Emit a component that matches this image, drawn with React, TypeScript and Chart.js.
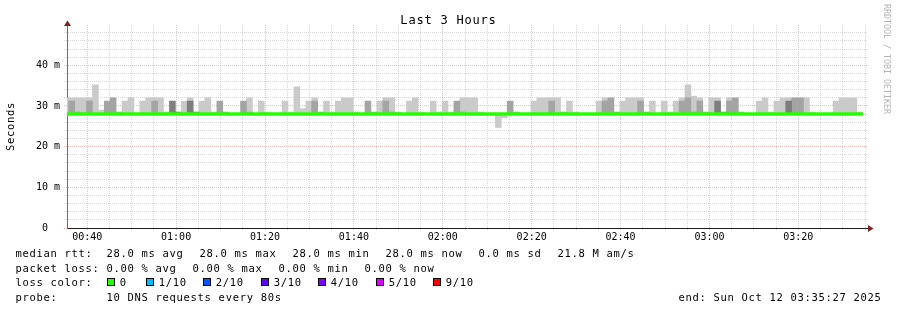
import React, { useEffect, useRef } from 'react';
import { Chart, registerables } from 'chart.js';

Chart.register(...registerables);

// ---------------- data ----------------
const _ = null;
const MEDIAN_MS = 28.0;                  // median rtt (avg = max = min = now)
const FIRST_STEP_MIN = 34.5;             // 00:34:30 start of first (partly visible) 80 s round
const STEP_MIN = 80 / 60;                // one probe round every 80 s
const WINDOW_START_MIN = 35 + 27 / 60;   // 00:35:27
const WINDOW_END_MIN = 215 + 27 / 60;    // 03:35:27
const Y_MAX_MS = 49.9;

const X_TICK_LABELS = ['00:40', '01:00', '01:20', '01:40', '02:00', '02:20', '02:40', '03:00', '03:20'];
const Y_TICK_VALUES = [0, 10, 20, 30, 40];
const Y_TICK_LABELS = ['0  ', '10 m', '20 m', '30 m', '40 m'];

// smoke: top (ms) of outer / middle / inner bands above the median, one value per 80 s round
const SMOKE_OUTER_TOP = [
  32, 32, 32, 32, 32, 35.2, 29.0, _, _, _,
  31.2, 32, _, 31.2, 32, 32, 32, 28.5, _, _,
  31.2, 32, _, 31.2, 32, 28.5, _, _, _, _,
  _, 32, _, 31.2, 28.5, _, _, 31.2, 28.5, 34.7,
  29.3, 31.2, 32, _, 31.2, 28.5, 31.2, 32, 32, 28.5,
  _, _, _, 31.2, 32, 32, 28.5, _, 31.2, 32,
  28.5, _, 31.2, 28.5, 31.2, 28.5, _, 32, 32, 32,
  28.5, _, _, _, _, _, _, _, _, 31.2,
  32, 32, 32, 32, _, 31.2, 28.5, _, _, _,
  31.2, 32, _, _, 31.2, 32, 32, 32, _, 31.2,
  _, 31.2, 28.5, 31.2, 32, 35.2, 32.4, 32, _, 32,
  32, _, 32, _, _, _, _, 31.2, 32, 28.5,
  31.2, 32, 32, _, _, 32, 28.5, _, _, _,
  31.2, 32, 32, 32, 28.5,
];
const SMOKE_MID_TOP = [
  _, 31.2, 28.5, _, 31.2, _, _, 31.2, 32, 28.5,
  _, _, _, _, _, 31.2, _, _, _, _,
  _, _, _, _, _, _, 31.2, 28.5, _, _,
  31.2, 28.5, _, _, _, _, _, _, _, _,
  _, _, 31.2, 28.5, _, _, _, _, _, _,
  _, 31.2, 28.5, _, 31.2, 28.5, _, _, _, _,
  _, _, _, _, _, _, 31.2, 28.5, _, _,
  _, _, _, _, _, 31.2, 28.5, _, _, _,
  _, _, 31.2, _, 28.5, _, _, _, _, _,
  _, 31.2, 32, 28.5, _, _, _, 31.2, 28.5, _,
  _, _, _, _, 31.2, 32, 28.5, 31.2, 28.5, _,
  _, _, 31.2, 32, 28.5, _, _, _, _, _,
  _, _, _, 32, 32, _, _, _, _, _,
  _, _, _, _, _,
];
const SMOKE_INNER_TOP = [
  _, _, _, _, _, _, _, _, _, _,
  _, _, _, _, _, _, _, _, 31.2, 28.5,
  _, 31.2, 28.5, _, _, _, _, _, _, _,
  _, _, _, _, _, _, _, _, _, _,
  _, _, _, _, _, _, _, _, _, _,
  _, _, _, _, _, _, _, _, _, _,
  _, _, _, _, _, _, _, _, _, _,
  _, _, _, _, _, _, _, _, _, _,
  _, _, _, _, _, _, _, _, _, _,
  _, _, _, _, _, _, _, _, _, _,
  _, _, _, _, _, _, _, _, _, _,
  31.2, 28.5, _, _, _, _, _, _, _, _,
  _, _, 31.2, _, _, _, _, _, _, _,
  _, _, _, _, _,
];
// lowest ping (ms) where it fell below the median
const SMOKE_BELOW = [
  _, _, _, _, _, _, _, _, _, _,
  _, _, _, _, _, _, _, _, _, _,
  _, _, _, _, _, _, _, _, _, _,
  _, _, _, _, _, _, _, _, _, _,
  _, _, _, _, _, _, _, _, _, _,
  _, _, _, _, _, _, _, _, _, _,
  _, _, _, _, _, _, _, _, _, _,
  _, _, _, 24.7, 27.1, _, _, _, _, _,
  _, _, _, _, _, _, _, _, _, _,
  _, _, _, _, _, _, _, _, _, _,
  _, _, _, _, _, _, _, _, _, _,
  _, _, _, _, _, _, _, _, _, _,
  _, _, _, _, _, _, _, _, _, _,
  _, _, _, _, _,
];

const LOSS_LABELS = ['0', '1/10', '2/10', '3/10', '4/10', '5/10', '9/10'];
const LOSS_COLORS = ['#26ff00', '#00b8ff', '#0059ff', '#5e00ff', '#7e00ff', '#dd00ff', '#ff0000'];

const TITLE = 'Last 3 Hours';
const Y_TITLE = 'Seconds';
const WATERMARK = 'RRDTOOL / TOBI OETIKER';
const RTT_ITEMS = ['28.0 ms avg', '28.0 ms max', '28.0 ms min', '28.0 ms now', '0.0 ms sd', '21.8 M am/s'];
const LOSS_ITEMS = ['0.00 % avg', '0.00 % max', '0.00 % min', '0.00 % now'];
const LEGEND_RTT = 'median rtt:';
const LEGEND_LOSS = 'packet loss:';
const LEGEND_COLOR = 'loss color:';
const LEGEND_PROBE = 'probe:';
const PROBE_TEXT = '10 DNS requests every 80s';
const LEGEND_END = 'end: Sun Oct 12 03:35:27 2025';

// ---------------- styles ----------------
const MONO = "'DejaVu Sans Mono', monospace";
const GRID_MINOR = 'rgba(143,143,143,0.36)';
const GRID_MAJOR = 'rgba(222,79,79,0.38)';
const SMOKE_COLORS = ['#cacaca', '#a4a4a4', '#7e7e7e'];
const ARROW = '#801f1f';
const CHAR_W = 7.0;
const ITEM_GAP = 16;

const X_TICK_MIN = X_TICK_LABELS.map((s) => {
  const [h, m] = s.split(':').map(Number);
  return h * 60 + m;
});

const stepMid = (i: number) => FIRST_STEP_MIN + (i + 0.5) * STEP_MIN;
const DATA_END_MIN = FIRST_STEP_MIN + SMOKE_OUTER_TOP.length * STEP_MIN;

const above = (tops: (number | null)[]) =>
  tops.flatMap((t, i) => (t == null ? [] : [{ x: stepMid(i), y: [MEDIAN_MS, t] }]));
const below = (lows: (number | null)[]) =>
  lows.flatMap((t, i) => (t == null ? [] : [{ x: stepMid(i), y: [t, MEDIAN_MS] }]));

const drawItems = (ctx: any, items: string[], x0: number, y: number) => {
  let x = x0;
  items.forEach((s) => {
    ctx.fillText(s, x, y);
    x += s.length * CHAR_W + ITEM_GAP;
  });
};

const decor = {
  id: 'rrdDecor',
  afterDraw(chart: any) {
    const { ctx, chartArea: a } = chart;
    // median line above the grid
    ctx.save();
    ctx.beginPath();
    ctx.rect(a.left, a.top, a.right - a.left, a.bottom - a.top);
    ctx.clip();
    chart.getDatasetMeta(0).controller.draw();
    ctx.restore();

    ctx.save();
    // arrows
    ctx.fillStyle = ARROW;
    ctx.beginPath();
    ctx.moveTo(a.left - 3, a.top + 1);
    ctx.lineTo(a.left + 4, a.top + 1);
    ctx.lineTo(a.left + 0.5, a.top - 4.5);
    ctx.closePath();
    ctx.fill();
    ctx.beginPath();
    ctx.moveTo(a.right + 1, a.bottom - 3);
    ctx.lineTo(a.right + 1, a.bottom + 4);
    ctx.lineTo(a.right + 6.5, a.bottom + 0.5);
    ctx.closePath();
    ctx.fill();

    ctx.fillStyle = '#000';
    // title
    ctx.font = `12px ${MONO}`;
    ctx.letterSpacing = '0.8px';
    ctx.textAlign = 'center';
    ctx.textBaseline = 'alphabetic';
    ctx.fillText(TITLE, 448.5, 23.5);

    // legend
    ctx.font = `10.5px ${MONO}`;
    ctx.letterSpacing = '0.68px';
    ctx.textAlign = 'left';
    const x0 = 15.4;
    const xv = 106.6;
    ctx.fillText(LEGEND_RTT, x0, 257.3);
    drawItems(ctx, RTT_ITEMS, xv, 257.3);
    ctx.fillText(LEGEND_LOSS, x0, 271.7);
    drawItems(ctx, LOSS_ITEMS, xv, 271.7);
    ctx.fillText(LEGEND_COLOR, x0, 286);
    ctx.fillText(LEGEND_PROBE, x0, 300.5);
    ctx.fillText(PROBE_TEXT, xv, 300.5);
    const boxX = [107, 146, 203, 261, 318, 376, 433];
    LOSS_LABELS.forEach((lab, i) => {
      ctx.fillStyle = LOSS_COLORS[i];
      ctx.fillRect(boxX[i], 278, 8, 8);
      ctx.strokeStyle = '#000';
      ctx.lineWidth = 1;
      ctx.strokeRect(boxX[i] + 0.5, 278.5, 7, 7);
      ctx.fillStyle = '#000';
      ctx.fillText(lab, boxX[i] + 12.8, 286);
    });
    ctx.textAlign = 'right';
    ctx.fillText(LEGEND_END, 881.5, 300.5);

    // y title
    ctx.save();
    ctx.translate(11, (a.top + a.bottom) / 2);
    ctx.rotate(-Math.PI / 2);
    ctx.textAlign = 'center';
    ctx.textBaseline = 'middle';
    ctx.fillText(Y_TITLE, 0, 0);
    ctx.restore();

    // watermark
    ctx.save();
    ctx.translate(884, 4);
    ctx.rotate(Math.PI / 2);
    ctx.font = `8.3px ${MONO}`;
    ctx.letterSpacing = '0px';
    ctx.fillStyle = '#b4b4b4';
    ctx.textAlign = 'left';
    ctx.textBaseline = 'alphabetic';
    ctx.fillText(WATERMARK, 0, 0);
    ctx.restore();

    ctx.restore();
  },
};

export default function App() {
  const ref = useRef<HTMLCanvasElement>(null);
  useEffect(() => {
    const xGrid: number[] = [];
    for (let v = Math.ceil(WINDOW_START_MIN / 5) * 5; v <= WINDOW_END_MIN; v += 5) xGrid.push(v);
    const yGrid: number[] = [];
    for (let v = 0; v < Y_MAX_MS; v += 2) yGrid.push(v);

    const smoke = { type: 'bar', grouped: false, barPercentage: 1, categoryPercentage: 1, borderWidth: 0 };
    const chart = new Chart(ref.current as HTMLCanvasElement, {
      type: 'bar',
      data: {
        datasets: [
          {
            type: 'line',
            data: [
              { x: FIRST_STEP_MIN, y: MEDIAN_MS },
              { x: DATA_END_MIN, y: MEDIAN_MS },
            ],
            borderColor: LOSS_COLORS[0],
            borderWidth: 3,
            borderCapStyle: 'butt',
            pointRadius: 0,
            order: 0,
          },
          { ...smoke, data: above(SMOKE_INNER_TOP), backgroundColor: SMOKE_COLORS[2], order: 1 },
          { ...smoke, data: above(SMOKE_MID_TOP), backgroundColor: SMOKE_COLORS[1], order: 2 },
          { ...smoke, data: above(SMOKE_OUTER_TOP), backgroundColor: SMOKE_COLORS[0], order: 3 },
          { ...smoke, data: below(SMOKE_BELOW), backgroundColor: SMOKE_COLORS[0], order: 3 },
        ] as any,
      },
      options: {
        responsive: false,
        animation: false,
        devicePixelRatio: 1,
        events: [],
        layout: { padding: { top: 25, right: 30, left: 0, bottom: 0 } },
        plugins: { legend: { display: false }, title: { display: false }, tooltip: { enabled: false } },
        scales: {
          x: {
            type: 'linear',
            min: WINDOW_START_MIN,
            max: WINDOW_END_MIN,
            offset: false,
            z: 1,
            afterFit: (s: any) => { s.height = 82; },
            afterBuildTicks: (s: any) => { s.ticks = xGrid.map((v) => ({ value: v })); },
            ticks: {
              autoSkip: false,
              maxRotation: 0,
              padding: 0.5,
              color: '#000',
              font: { family: MONO, size: 10 },
              callback: (v: any) => {
                const i = X_TICK_MIN.indexOf(Number(v));
                return i >= 0 ? X_TICK_LABELS[i] : '';
              },
            },
            grid: {
              offset: false,
              lineWidth: 1,
              tickLength: 3,
              color: (c: any) => (c.tick && X_TICK_MIN.includes(c.tick.value) ? GRID_MAJOR : GRID_MINOR),
              tickBorderDash: [1, 1],
            },
            border: { display: true, color: '#1f1f1f', width: 1, dash: [1, 1] },
          },
          y: {
            type: 'linear',
            min: 0,
            max: Y_MAX_MS,
            z: 1,
            afterFit: (s: any) => { s.width = 67; },
            afterBuildTicks: (s: any) => { s.ticks = yGrid.map((v) => ({ value: v })); },
            ticks: {
              autoSkip: false,
              padding: 4,
              color: '#000',
              font: { family: MONO, size: 10 },
              callback: (v: any) => {
                const i = Y_TICK_VALUES.indexOf(Number(v));
                return i >= 0 ? Y_TICK_LABELS[i] : '';
              },
            },
            grid: {
              lineWidth: 1,
              tickLength: 3,
              color: (c: any) => (c.tick && Y_TICK_VALUES.includes(c.tick.value) ? GRID_MAJOR : GRID_MINOR),
              tickBorderDash: [1, 1],
            },
            border: { display: true, color: '#6e6e6e', width: 1, dash: [1, 1] },
          },
        },
      } as any,
      plugins: [decor],
    } as any);
    return () => chart.destroy();
  }, []);

  return (
    <div style={{ position: 'absolute', left: 0, top: 0, width: 897, height: 310, background: '#fff' }}>
      <canvas ref={ref} width={897} height={310} style={{ display: 'block', width: 897, height: 310 }} />
    </div>
  );
}
